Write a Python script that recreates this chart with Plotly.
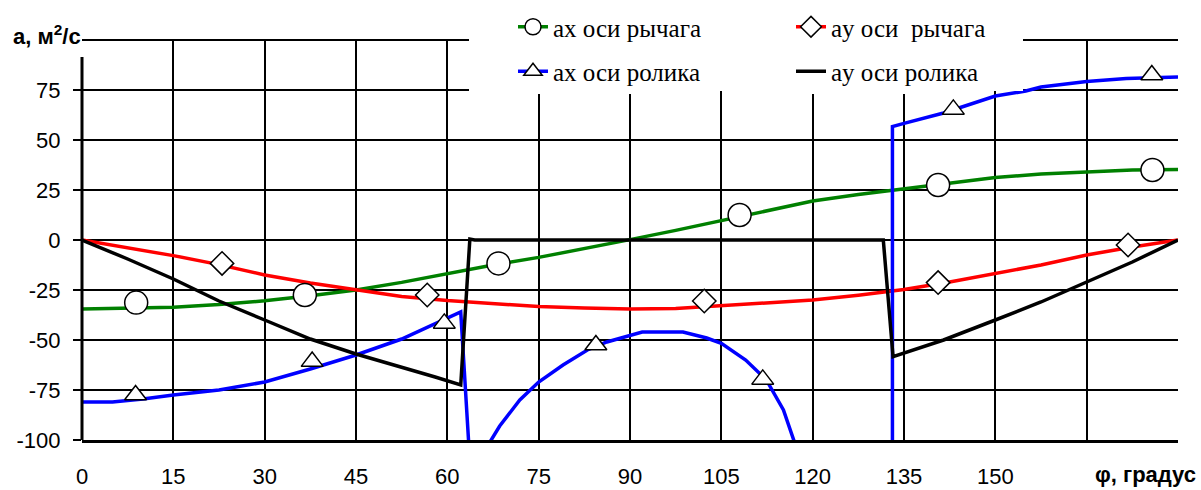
import plotly.graph_objects as go

# ---------------- data ----------------
phi_lever = [0, 7.5, 15, 22.5, 30, 37.5, 45, 52.5, 60, 67.5, 75, 82.5, 90,
             97.5, 105, 112.5, 120, 127.5, 135, 142.5, 150, 157.5, 165, 172.5, 180]
ax_lever = [-34.5, -34.2, -33.6, -32.3, -30.4, -27.9, -25.0, -21.2, -16.9, -12.5,
            -8.7, -4.4, 0.2, 4.8, 9.6, 14.6, 19.5, 22.8, 25.6, 28.6, 31.2, 33.0,
            34.2, 35.0, 35.3]
ay_lever = [0, -3.8, -7.8, -12.3, -17.5, -21.5, -25.0, -28.2, -30.3, -32.0,
            -33.3, -34.0, -34.5, -34.3, -33.0, -31.5, -30.0, -27.6, -24.8, -21.0,
            -16.7, -12.5, -7.5, -3.5, 0]

phi_ax_roller = [0, 5, 10, 15, 22.5, 30, 37.5, 45, 52.5, 57, 62.2, 63.5, None,
                 67, 68.6, 71.9, 75, 79, 83, 86.2, 90, 92, 98.7, 102.6, 105, 109,
                 112.4, 115.2, 117, None, 133.1, 133.1, 135, 141.5, 150, 155,
                 157.5, 165, 171.5, 180]
ax_roller = [-81, -81, -79.5, -77.5, -75, -71, -64.5, -57.5, -49.5, -43.3, -36,
             -101, None, -101, -93, -80, -71, -62.5, -55, -51, -47.5, -46, -46,
             -49, -51.7, -60, -70, -85, -101, None, -101, 56.7, 58.3, 63.5, 72,
             74.5, 76.5, 79.2, 80.8, 81.5]

phi_ay_roller = [0, 7.5, 15, 22.5, 30, 37.5, 45, 52.5, 58, 62.2, 63.7, 64.5, 90,
                 120, 131.6, 133.2, 141.5, 150, 157.5, 165, 172.5, 180]
ay_roller = [0, -9.5, -19.5, -30.5, -40, -49.5, -57, -63.5, -68.5, -72.5, 0.5, 0,
             0, 0, 0, -58.3, -50, -40, -31, -21, -11, 0]

# marker points
mk_ax_lever_phi = [8.9, 36.6, 68.4, 108, 140.6, 175.8]
mk_ax_lever_val = [-31.3, -27.5, -11.7, 12.5, 27.5, 35]
mk_ay_lever_phi = [23, 56.7, 102.2, 140.6, 171.8]
mk_ay_lever_val = [-11.7, -27.5, -30.5, -21.3, -2.5]
mk_ax_roller_phi = [8.8, 37.8, 59.5, 84.4, 111.8, 143.1, 175.7]
mk_ax_roller_val = [-77.5, -60.8, -41.7, -52.5, -69.7, 65.3, 82.5]

x_ticks = [0, 15, 30, 45, 60, 75, 90, 105, 120, 135, 150, 165, 180]
x_ticktext = ["0", "15", "30", "45", "60", "75", "90", "105", "120", "135", "150", "", ""]
y_ticks = [-100, -75, -50, -25, 0, 25, 50, 75]
y_ticktext = ["-100", "-75", "-50", "-25", "0", "25", "50", "75"]

names = ["ax оси рычага", "ay оси  рычага", "ax оси ролика", "ay оси ролика"]
GREEN, RED, BLUE, BLACK = "#008000", "#FF0000", "#0000FF", "#000000"
LW = 3.5

fig = go.Figure()

# lines
fig.add_trace(go.Scatter(x=phi_lever, y=ax_lever, mode="lines",
                         line=dict(color=GREEN, width=LW), showlegend=False))
fig.add_trace(go.Scatter(x=phi_lever, y=ay_lever, mode="lines",
                         line=dict(color=RED, width=LW), showlegend=False))
fig.add_trace(go.Scatter(x=phi_ax_roller, y=ax_roller, mode="lines",
                         line=dict(color=BLUE, width=LW), showlegend=False,
                         connectgaps=False))
fig.add_trace(go.Scatter(x=phi_ay_roller, y=ay_roller, mode="lines",
                         line=dict(color=BLACK, width=LW), showlegend=False))

mk_line = dict(color="black", width=1.5)
fig.add_trace(go.Scatter(x=mk_ax_lever_phi, y=mk_ax_lever_val, mode="markers",
                         marker=dict(symbol="circle", size=23, color="white", line=mk_line),
                         showlegend=False, cliponaxis=False))
fig.add_trace(go.Scatter(x=mk_ay_lever_phi, y=mk_ay_lever_val, mode="markers",
                         marker=dict(symbol="diamond", size=18, color="white", line=mk_line),
                         showlegend=False, cliponaxis=False))
fig.add_trace(go.Scatter(x=mk_ax_roller_phi, y=mk_ax_roller_val, mode="markers",
                         marker=dict(symbol="triangle-up", size=19, color="white", line=mk_line),
                         showlegend=False, cliponaxis=False))

# legend entries
fig.add_trace(go.Scatter(x=[None], y=[None], mode="lines+markers", name=names[0],
                         line=dict(color=GREEN, width=LW),
                         marker=dict(symbol="circle", size=22, color="white", line=mk_line),
                         legend="legend", legendgroup="g1"))
fig.add_trace(go.Scatter(x=[None], y=[None], mode="lines+markers", name=names[2],
                         line=dict(color=BLUE, width=LW),
                         marker=dict(symbol="triangle-up", size=18, color="white", line=mk_line),
                         legend="legend", legendgroup="g2"))
fig.add_trace(go.Scatter(x=[None], y=[None], mode="lines+markers", name=names[1],
                         line=dict(color=RED, width=LW),
                         marker=dict(symbol="diamond", size=17, color="white", line=mk_line),
                         legend="legend2", legendgroup="g3"))
fig.add_trace(go.Scatter(x=[None], y=[None], mode="lines", name=names[3],
                         line=dict(color=BLACK, width=LW),
                         legend="legend2", legendgroup="g4"))

tick_font = dict(family="Liberation Sans, Arial, sans-serif", size=22, color="black")
leg_font = dict(family="Liberation Serif, Times New Roman, serif", size=25, color="black")

fig.update_layout(
    width=1201, height=490,
    margin=dict(l=82, r=23, t=40, b=50, autoexpand=False),
    plot_bgcolor="white", paper_bgcolor="white",
    xaxis=dict(range=[0, 180], tickvals=x_ticks, ticktext=x_ticktext,
               showgrid=True, gridcolor="black", gridwidth=2,
               showline=True, linecolor="black", linewidth=3,
               zeroline=False, ticks="", tickfont=tick_font,
               ticklabelstandoff=15),
    yaxis=dict(range=[-100, 100], tickvals=y_ticks, ticktext=y_ticktext,
               showgrid=True, gridcolor="black", gridwidth=2,
               showline=False, zeroline=False,
               ticks="outside", ticklen=8, tickwidth=2, tickcolor="black",
               tickfont=tick_font, ticklabelstandoff=8),
    legend=dict(x=(513 - 82) / 1096, y=1.09, xanchor="left", yanchor="top",
                bgcolor="white", borderwidth=0, font=leg_font,
                tracegroupgap=9, itemsizing="trace"),
    legend2=dict(x=(791 - 82) / 1096, y=1.09, xanchor="left", yanchor="top",
                 bgcolor="white", borderwidth=0, font=leg_font,
                 tracegroupgap=9, itemsizing="trace"),
    shapes=[
        # top border line of the plot area (gridline at 100)
        dict(type="line", xref="paper", yref="paper", x0=0, x1=1, y0=1, y1=1,
             line=dict(color="black", width=2), layer="below"),
        # white box behind the legend hiding the gridlines
        dict(type="rect", xref="paper", yref="paper",
             x0=(469 - 82) / 1096, x1=(1023 - 82) / 1096, y0=0.8725, y1=1.1,
             fillcolor="white", line=dict(width=0), layer="above"),
        # y axis line
        dict(type="line", xref="paper", yref="paper", x0=0, x1=0, y0=0, y1=0.9575,
             line=dict(color="black", width=3), layer="above"),
    ],
    annotations=[
        dict(text="<b>a, м<sup>2</sup>/с</b>", xref="paper", yref="paper",
             x=(47 - 82) / 1096, y=1.0125, xanchor="center", yanchor="middle",
             showarrow=False, font=dict(family="Liberation Sans, Arial, sans-serif",
                                        size=22, color="black")),
        dict(text="<b>φ, градус</b>", xref="paper", yref="paper",
             x=(1198 - 82) / 1096, y=-0.085, xanchor="right", yanchor="middle",
             showarrow=False, font=dict(family="Liberation Sans, Arial, sans-serif",
                                        size=22, color="black")),
    ],
)

fig.write_html("out.html", config={"displayModeBar": False},
               post_script="document.body.style.margin='0px';")
